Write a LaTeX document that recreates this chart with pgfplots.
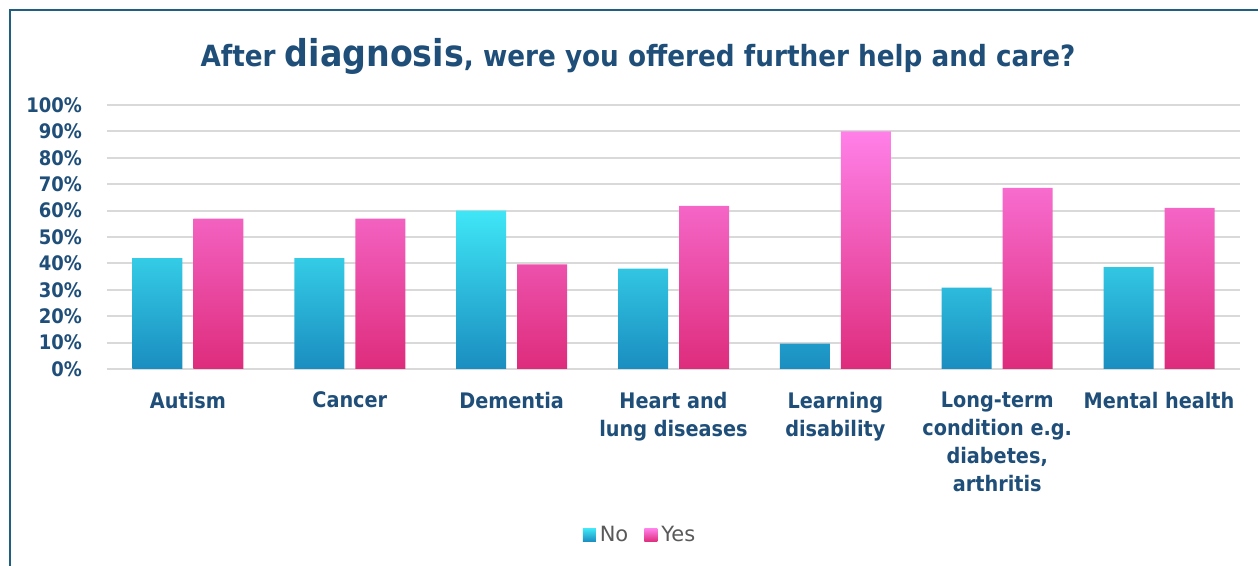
\documentclass[border=0pt]{standalone}
\usepackage{pgfplots}
\pgfplotsset{compat=1.18}
\usepackage{fontspec}
\setmainfont{DejaVu Sans Condensed}
\newfontfamily\legfont{DejaVu Sans}
\definecolor{titleblue}{HTML}{1F4E79}
\definecolor{frameblue}{HTML}{1F5F80}
\definecolor{gridgray}{HTML}{D9D9D9}
\definecolor{cyantop}{HTML}{3FE6F6}
\definecolor{cyanbot}{HTML}{1A8DC0}
\definecolor{pinktop}{HTML}{FF80E8}
\definecolor{pinkbot}{HTML}{DE2C7C}
\definecolor{leggray}{HTML}{595959}
\begin{document}
\begin{tikzpicture}
\path[use as bounding box] (-53.5pt,-98.5pt) rectangle (575.5pt,184.5pt);
\draw[frameblue, line width=1pt] (-48.5pt,-110pt) -- (-48.5pt,179.5pt) -- (590pt,179.5pt);
\node[text=titleblue, font=\bfseries\fontsize{14.6}{17}\selectfont] at (265.5pt,156.5pt)
  {After {\fontsize{18.5}{20}\selectfont diagnosis}, were you offered further help and care?};
\begin{axis}[
  at={(0pt,0pt)}, anchor=south west,
  scale only axis, width=566.5pt, height=132pt,
  ybar=5.5pt, bar width=25pt,
  xmin=-0.5, xmax=6.5, ymin=0, ymax=100,
  xtick=data,
  xticklabels={Autism, Cancer, Dementia, {Heart and\\lung diseases}, {Learning\\disability}, {Long-term\\condition e.g.\\diabetes,\\arthritis}, {Mental health}},
  ytick={0,10,...,100},
  yticklabels={0\%,10\%,20\%,30\%,40\%,50\%,60\%,70\%,80\%,90\%,100\%},
  ymajorgrids, grid style={gridgray, line width=1pt},
  axis line style={draw=none},
  major tick length=0pt,
  tick label style={text=titleblue},
  yticklabel style={anchor=east, xshift=-9pt, font=\bfseries\fontsize{10}{12}\selectfont},
  xticklabel style={align=center, anchor=north, yshift=-8pt, font=\bfseries\fontsize{10.7}{14}\selectfont},
  legend style={at={(0.4713,-0.629)}, anchor=center, draw=none, fill=none,
    legend columns=2, font=\legfont\fontsize{10.5}{12}\selectfont, text=leggray,
    /tikz/every even column/.append style={column sep=6pt}},
  legend image code/.code={\path[#1] (0pt,-3.25pt) rectangle (6.5pt,3.25pt);},
  legend cell align=left,
]
\addplot[draw=none, top color=cyantop, bottom color=cyanbot] coordinates {(0,42) (1,42) (2,60) (3,38) (4,9.6) (5,30.8) (6,38.6)};
\addplot[draw=none, top color=pinktop, bottom color=pinkbot] coordinates {(0,57) (1,57) (2,39.6) (3,61.8) (4,90) (5,68.6) (6,61)};
\legend{No, Yes}
\end{axis}
\end{tikzpicture}
\end{document}
